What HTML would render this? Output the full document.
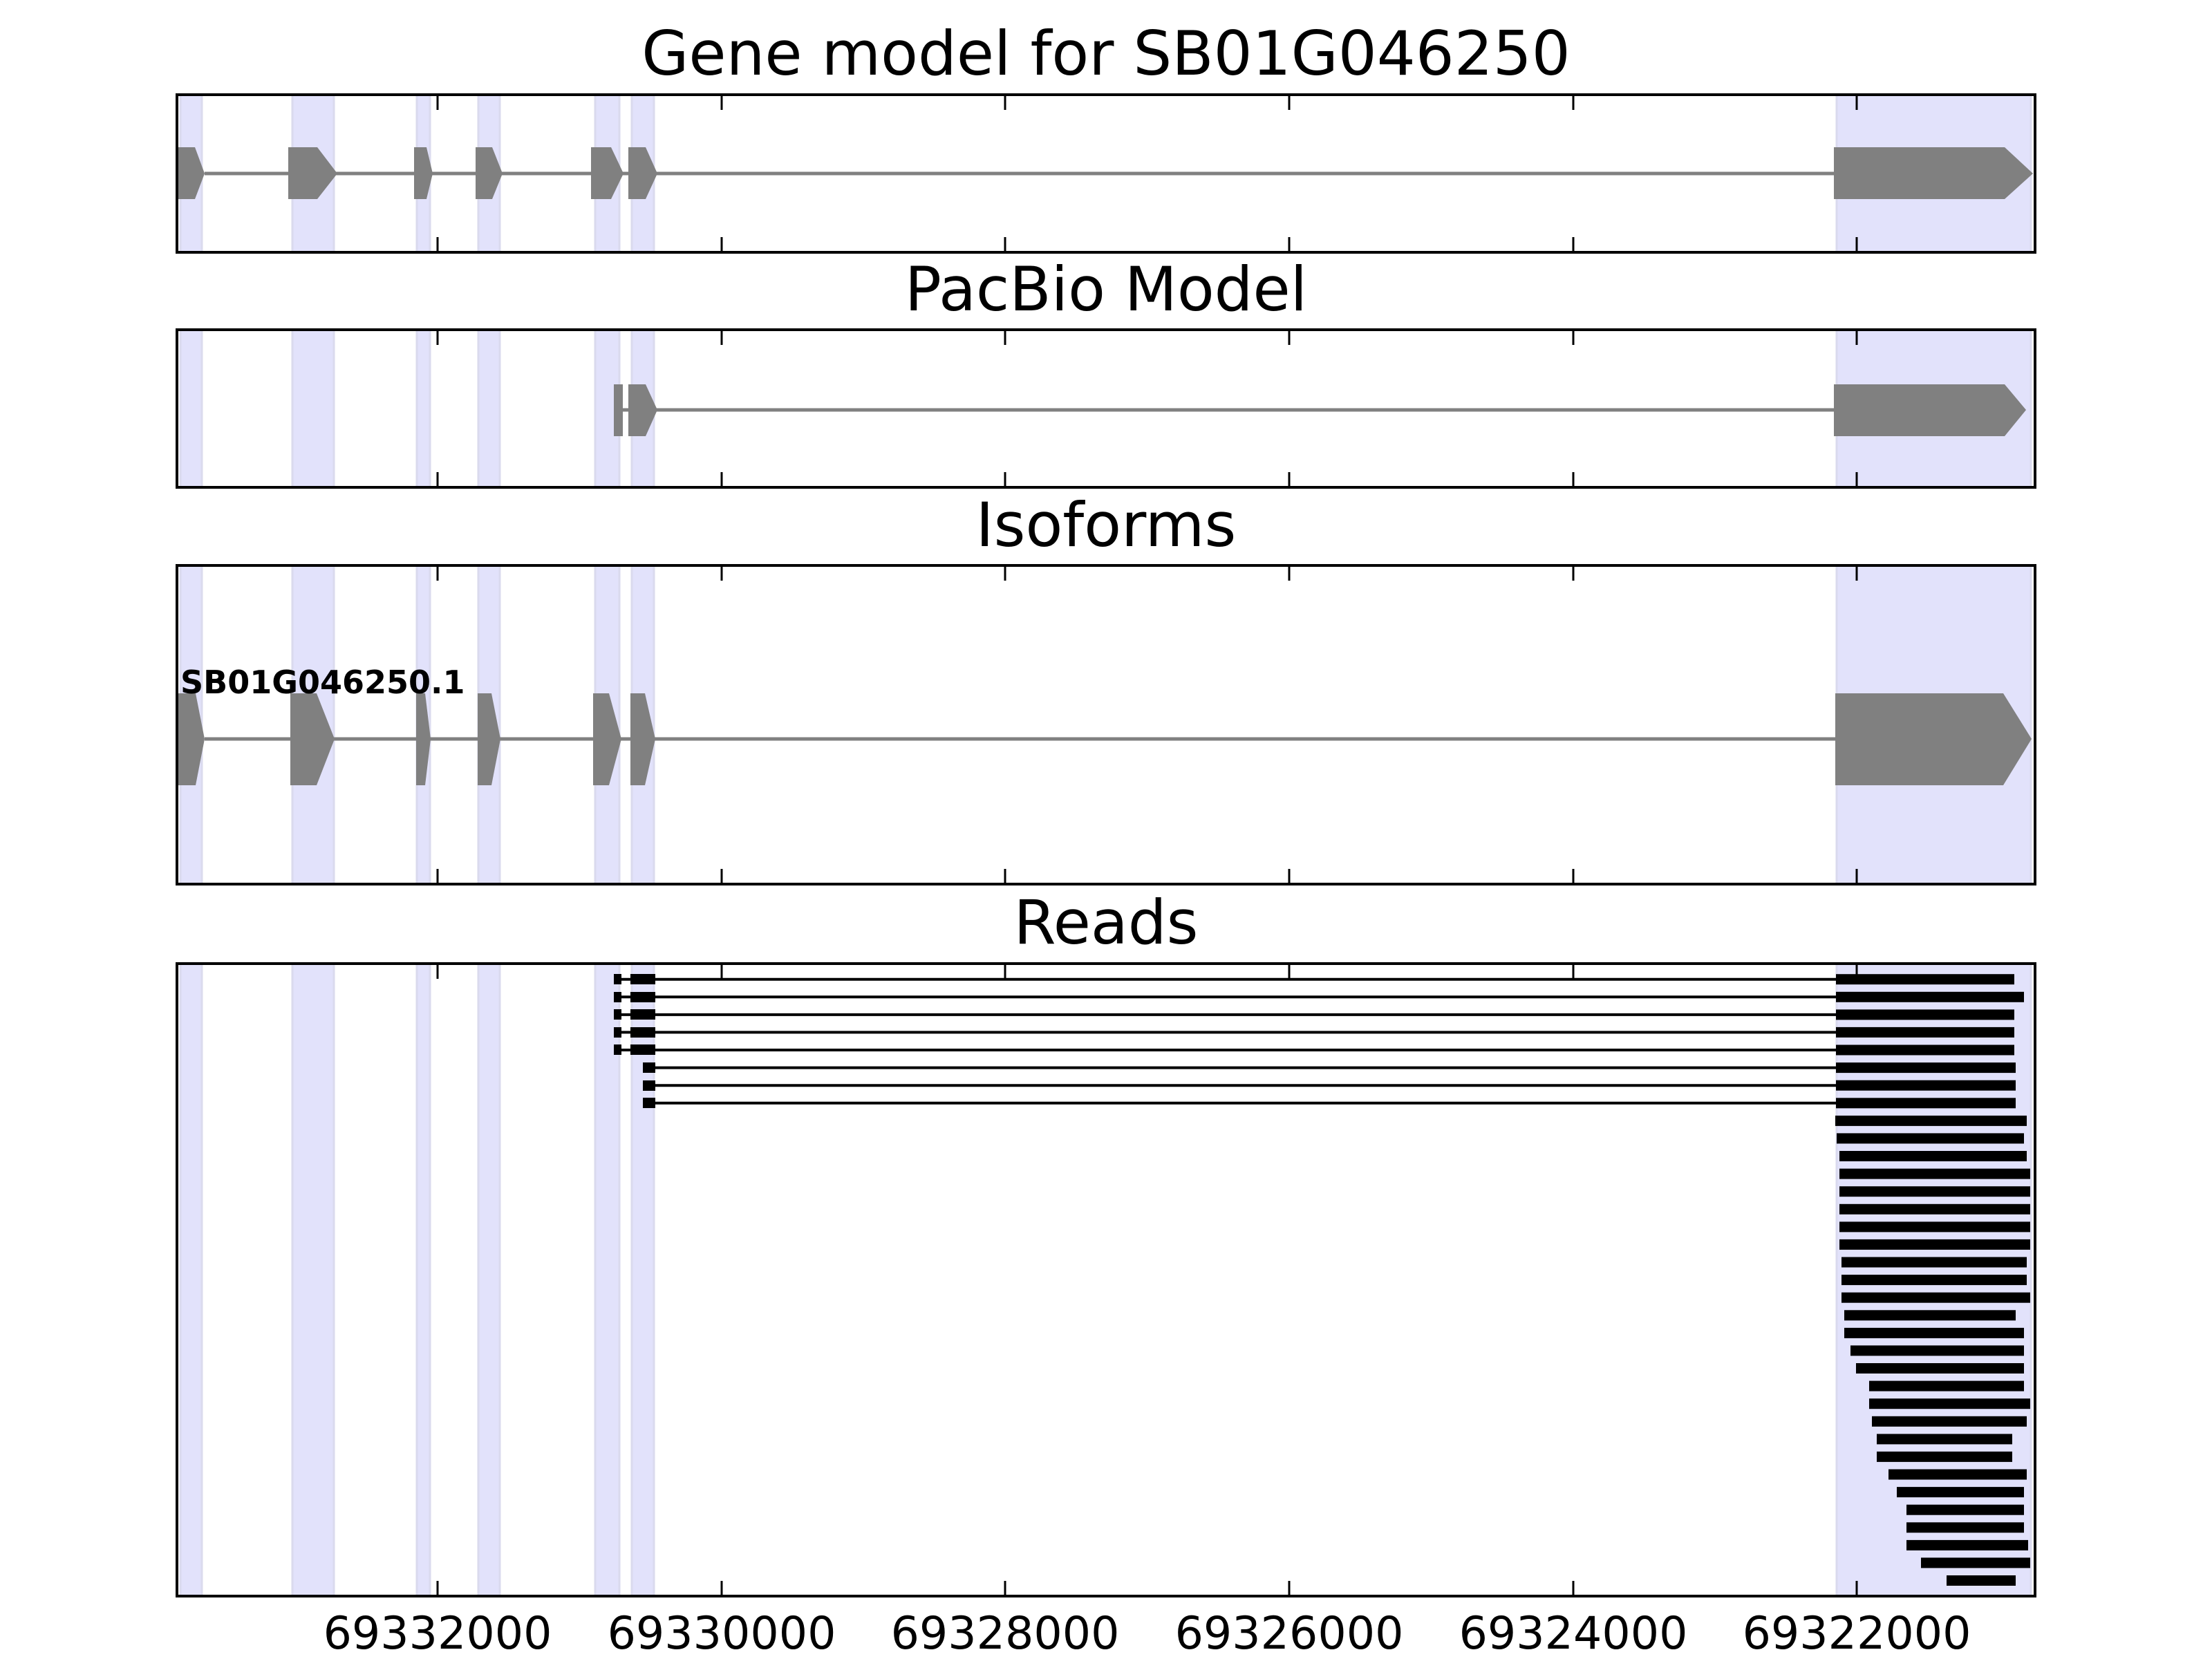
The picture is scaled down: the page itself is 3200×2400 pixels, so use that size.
<!DOCTYPE html>
<html><head><meta charset="utf-8"><style>html,body{margin:0;padding:0;background:#fff}svg{display:block}</style></head>
<body>
<svg width="3200" height="2400" viewBox="0 0 3200 2400" xmlns="http://www.w3.org/2000/svg" font-family="DejaVu Sans, Liberation Sans, sans-serif">
<g>
<g fill="#e2e2fb" stroke="#dadaee" stroke-width="3">
<rect x="261" y="137" width="31" height="228"/><rect x="423" y="137" width="60" height="228"/><rect x="603" y="137" width="19" height="228"/><rect x="692" y="137" width="31" height="228"/><rect x="861" y="137" width="35" height="228"/><rect x="914" y="137" width="32" height="228"/><rect x="2657" y="137" width="281" height="228"/>
</g>
<line x1="296" y1="251" x2="2653" y2="251" stroke="#808080" stroke-width="5"/>
<g fill="#808080">
<polygon points="256,213 282,213 296,251 282,288 256,288"/>
<polygon points="417,213 459,213 488,251 459,288 417,288"/>
<polygon points="599,213 617,213 626,251 617,288 599,288"/>
<polygon points="688,213 712,213 727,251 712,288 688,288"/>
<polygon points="855,213 884,213 902,251 884,288 855,288"/>
<polygon points="909,213 934,213 951,251 934,288 909,288"/>
<polygon points="2653,213 2900,213 2941,251 2900,288 2653,288"/>
</g>
</g>
<g>
<g fill="#e2e2fb" stroke="#dadaee" stroke-width="3">
<rect x="261" y="477" width="31" height="228"/><rect x="423" y="477" width="60" height="228"/><rect x="603" y="477" width="19" height="228"/><rect x="692" y="477" width="31" height="228"/><rect x="861" y="477" width="35" height="228"/><rect x="914" y="477" width="32" height="228"/><rect x="2657" y="477" width="281" height="228"/>
</g>
<line x1="895" y1="593" x2="2653" y2="593" stroke="#808080" stroke-width="5"/>
<g fill="#808080">
<rect x="888" y="556" width="13" height="75"/>
<polygon points="909,556 934,556 951,593 934,631 909,631"/>
<polygon points="2653,556 2900,556 2931,593 2900,631 2653,631"/>
</g>
</g>
<g>
<g fill="#e2e2fb" stroke="#dadaee" stroke-width="3">
<rect x="261" y="818" width="31" height="461"/><rect x="423" y="818" width="60" height="461"/><rect x="603" y="818" width="19" height="461"/><rect x="692" y="818" width="31" height="461"/><rect x="861" y="818" width="35" height="461"/><rect x="914" y="818" width="32" height="461"/><rect x="2657" y="818" width="281" height="461"/>
</g>
<line x1="296" y1="1069" x2="2655" y2="1069" stroke="#808080" stroke-width="5"/>
<g fill="#808080">
<polygon points="256,1003 283,1003 296,1069 283,1136 256,1136"/>
<polygon points="420,1003 458,1003 484,1069 458,1136 420,1136"/>
<polygon points="602,1003 615,1003 623,1069 615,1136 602,1136"/>
<polygon points="691,1003 711,1003 724,1069 711,1136 691,1136"/>
<polygon points="858,1003 881,1003 899,1069 881,1136 858,1136"/>
<polygon points="912,1003 933,1003 948,1069 933,1136 912,1136"/>
<polygon points="2655,1003 2898,1003 2939,1069 2898,1136 2655,1136"/>
</g>
<text x="261" y="1003" font-size="46" font-weight="bold" fill="#000">SB01G046250.1</text>
</g>
<g>
<g fill="#e2e2fb" stroke="#dadaee" stroke-width="3">
<rect x="261" y="1394" width="31" height="915"/><rect x="423" y="1394" width="60" height="915"/><rect x="603" y="1394" width="19" height="915"/><rect x="692" y="1394" width="31" height="915"/><rect x="861" y="1394" width="35" height="915"/><rect x="914" y="1394" width="32" height="915"/><rect x="2657" y="1394" width="281" height="915"/>
</g>
<g stroke="#000" stroke-width="4">
<line x1="894" y1="1416.7" x2="2657" y2="1416.7"/><line x1="894" y1="1442.3" x2="2657" y2="1442.3"/><line x1="894" y1="1467.9" x2="2657" y2="1467.9"/><line x1="894" y1="1493.4" x2="2657" y2="1493.4"/><line x1="894" y1="1519" x2="2657" y2="1519"/><line x1="935" y1="1544.6" x2="2657" y2="1544.6"/><line x1="935" y1="1570.2" x2="2657" y2="1570.2"/><line x1="935" y1="1595.8" x2="2657" y2="1595.8"/>
</g>
<g fill="#000">
<rect x="888" y="1409" width="11" height="15"/><rect x="912" y="1409" width="36" height="15"/>
<rect x="888" y="1435" width="11" height="15"/><rect x="912" y="1435" width="36" height="15"/>
<rect x="888" y="1460" width="11" height="15"/><rect x="912" y="1460" width="36" height="15"/>
<rect x="888" y="1486" width="11" height="15"/><rect x="912" y="1486" width="36" height="15"/>
<rect x="888" y="1511" width="11" height="15"/><rect x="912" y="1511" width="36" height="15"/>
<rect x="930" y="1537" width="18" height="15"/><rect x="930" y="1563" width="18" height="15"/><rect x="930" y="1588" width="18" height="15"/>
</g>
<g fill="#000">
<rect x="2656" y="1409.2" width="258" height="15"/>
<rect x="2656" y="1434.8" width="272" height="15"/>
<rect x="2656" y="1460.4" width="258" height="15"/>
<rect x="2656" y="1485.9" width="258" height="15"/>
<rect x="2656" y="1511.5" width="258" height="15"/>
<rect x="2656" y="1537.1" width="260" height="15"/>
<rect x="2656" y="1562.7" width="260" height="15"/>
<rect x="2656" y="1588.3" width="260" height="15"/>
<rect x="2655" y="1613.9" width="277" height="15"/>
<rect x="2657" y="1639.4" width="271" height="15"/>
<rect x="2661" y="1665" width="271" height="15"/>
<rect x="2661" y="1690.6" width="276" height="15"/>
<rect x="2661" y="1716.2" width="276" height="15"/>
<rect x="2661" y="1741.8" width="276" height="15"/>
<rect x="2661" y="1767.4" width="276" height="15"/>
<rect x="2661" y="1792.9" width="276" height="15"/>
<rect x="2664" y="1818.5" width="268" height="15"/>
<rect x="2664" y="1844.1" width="268" height="15"/>
<rect x="2664" y="1869.7" width="273" height="15"/>
<rect x="2668" y="1895.3" width="248" height="15"/>
<rect x="2668" y="1920.9" width="260" height="15"/>
<rect x="2677" y="1946.4" width="251" height="15"/>
<rect x="2685" y="1972" width="243" height="15"/>
<rect x="2704" y="1997.6" width="224" height="15"/>
<rect x="2704" y="2023.2" width="233" height="15"/>
<rect x="2708" y="2048.8" width="224" height="15"/>
<rect x="2715" y="2074.4" width="196" height="15"/>
<rect x="2715" y="2099.9" width="196" height="15"/>
<rect x="2732" y="2125.5" width="200" height="15"/>
<rect x="2744" y="2151.1" width="184" height="15"/>
<rect x="2758" y="2176.7" width="170" height="15"/>
<rect x="2758" y="2202.3" width="170" height="15"/>
<rect x="2758" y="2227.9" width="176" height="15"/>
<rect x="2779" y="2253.4" width="158" height="15"/>
<rect x="2816" y="2279" width="100" height="15"/>
</g>
</g>
<g fill="none" stroke="#000" stroke-width="4">
<rect x="256" y="137" width="2688" height="228"/>
<rect x="256" y="477" width="2688" height="228"/>
<rect x="256" y="818" width="2688" height="461"/>
<rect x="256" y="1394" width="2688" height="915"/>
</g>
<g stroke="#000" stroke-width="3">
<path d="M633,137v22M1044,137v22M1454,137v22M1865,137v22M2276,137v22M2686,137v22 M633,365v-22M1044,365v-22M1454,365v-22M1865,365v-22M2276,365v-22M2686,365v-22"/>
<path d="M633,477v22M1044,477v22M1454,477v22M1865,477v22M2276,477v22M2686,477v22 M633,705v-22M1044,705v-22M1454,705v-22M1865,705v-22M2276,705v-22M2686,705v-22"/>
<path d="M633,818v22M1044,818v22M1454,818v22M1865,818v22M2276,818v22M2686,818v22 M633,1279v-22M1044,1279v-22M1454,1279v-22M1865,1279v-22M2276,1279v-22M2686,1279v-22"/>
<path d="M633,1394v22M1044,1394v22M1454,1394v22M1865,1394v22M2276,1394v22M2686,1394v22 M633,2309v-22M1044,2309v-22M1454,2309v-22M1865,2309v-22M2276,2309v-22M2686,2309v-22"/>
</g>
<g font-size="88" text-anchor="middle" fill="#000">
<text x="1600" y="108">Gene model for SB01G046250</text>
<text x="1600" y="449">PacBio Model</text>
<text x="1600" y="790">Isoforms</text>
<text x="1600" y="1365">Reads</text>
</g>
<g font-size="65" text-anchor="middle" fill="#000">
<text x="633" y="2385">69332000</text>
<text x="1044" y="2385">69330000</text>
<text x="1454" y="2385">69328000</text>
<text x="1865" y="2385">69326000</text>
<text x="2276" y="2385">69324000</text>
<text x="2686" y="2385">69322000</text>
</g>
</svg>
</body></html>
